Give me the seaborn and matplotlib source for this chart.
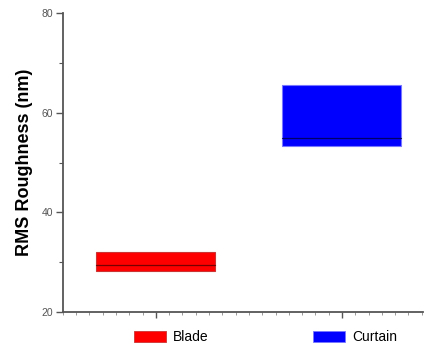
import numpy as np
import pandas as pd
import matplotlib
matplotlib.use("Agg")
import matplotlib.pyplot as plt
import seaborn as sns
from matplotlib.patches import Patch
from matplotlib.ticker import MultipleLocator

# values
methods = ['Blade', 'Curtain']
box_low = [28.2, 53.3]
box_median = [29.4, 54.9]
box_high = [32.1, 65.6]
colors = ['#ff0000', '#0000ff']
edge_colors = ['#cc3333', '#7777ff']
median_colors = ['#550000', '#000044']
box_width = 0.64

# boxplot needs raw values: low, low, median, high, high gives the quartiles exactly
rows = []
for m, lo, md, hi in zip(methods, box_low, box_median, box_high):
    for v in [lo, lo, md, hi, hi]:
        rows.append({'Method': m, 'RMS': v})
df = pd.DataFrame(rows)

sns.set_style('ticks')
plt.rcParams['font.family'] = ['Liberation Sans', 'DejaVu Sans']

fig = plt.figure(figsize=(4.25, 3.46), dpi=100)
ax = fig.add_axes([0.148, 0.098, 0.847, 0.864])

sns.boxplot(data=df, x='Method', y='RMS', hue='Method', palette=colors,
            saturation=1, width=box_width, whis=0, showcaps=False, showfliers=False,
            whiskerprops={'linewidth': 0},
            medianprops={'linewidth': 0},
            boxprops={'linewidth': 0.8}, legend=False, ax=ax)

for patch, ec in zip(ax.patches, edge_colors):
    patch.set_edgecolor(ec)

# median lines in a darker shade of each box
for i, (md, mc) in enumerate(zip(box_median, median_colors)):
    ax.plot([i - box_width / 2, i + box_width / 2], [md, md], color=mc,
            linewidth=0.9, alpha=0.8, zorder=10)

ax.set_xlim(-0.5, 1.435)
ax.set_ylim(20, 80)
ax.set_yticks([20, 40, 60, 80])
ax.yaxis.set_minor_locator(MultipleLocator(10))
ax.set_xticks([0, 1])
ax.set_xticklabels([])
ax.xaxis.set_minor_locator(MultipleLocator(1 / 14))
ax.set_xlabel('')
ax.set_ylabel('RMS Roughness (nm)', fontsize=13, fontweight='bold', labelpad=6,
              color='black')

for s in ['top', 'right']:
    ax.spines[s].set_visible(False)
for s in ['left', 'bottom']:
    ax.spines[s].set_color('#555555')
    ax.spines[s].set_linewidth(1.3)

ax.tick_params(axis='y', which='major', length=5, width=1, color='#555555',
               labelsize=7.5, labelcolor='#555555', pad=2)
ax.tick_params(axis='y', which='minor', length=3, width=0.8, color='#555555')
ax.tick_params(axis='x', which='major', length=4, width=1, color='#555555')
ax.tick_params(axis='x', which='minor', length=2, width=0.6, color='#888888')

handles = [Patch(facecolor=c, edgecolor=ec, linewidth=0.6) for c, ec in zip(colors, edge_colors)]
fig.legend(handles, methods, loc='center', bbox_to_anchor=(0.625, 0.026), ncol=2,
           frameon=False, fontsize=10, handlelength=2.3, handleheight=0.85,
           handletextpad=0.5, columnspacing=7.5, labelcolor='black')

fig.savefig('out.png', dpi=100)
